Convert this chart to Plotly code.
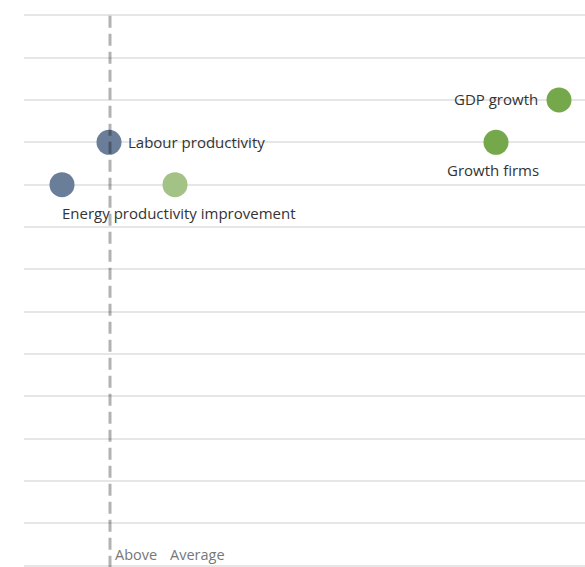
import plotly.graph_objects as go

# ---- data ----
metrics = ["GDP growth", "Growth firms", "Labour productivity",
           "Energy productivity", "Energy productivity improvement"]
scores = [535, 472, 85, 38, 151]          # horizontal position (score)
rows = [11, 10, 10, 9, 9]                 # row index
groups = ["above", "above", "below", "below", "improve"]
average_score = 86
labels = ["GDP growth", "Growth firms", "Labour productivity",
          "Energy productivity improvement", ""]
axis_labels = ["Above", "Average"]

# ---- styles ----
colors = {"above": "#75a84a", "below": "#6a7e99", "improve": "#a3c285"}
label_style = [
    dict(xanchor="right", yanchor="middle", xshift=-19, yshift=1),
    dict(xanchor="center", yanchor="middle", xshift=-3, yshift=-28),
    dict(xanchor="left", yanchor="middle", xshift=17, yshift=0),
    dict(xanchor="left", yanchor="middle", xshift=-2, yshift=-28),
    None,
]
FONT = "Open Sans"
FS = 15

fig = go.Figure()
fig.add_trace(go.Scatter(
    x=scores, y=rows, mode="markers",
    marker=dict(size=25, color=[colors[g] for g in groups], line=dict(width=0)),
    hoverinfo="text", text=metrics, showlegend=False,
))

for xv, yv, lab, st in zip(scores, rows, labels, label_style):
    if not lab or st is None:
        continue
    fig.add_annotation(x=xv, y=yv, text=lab, showarrow=False,
                       font=dict(family=FONT, size=FS, color="#333333"), **st)

# pane breaks in gridlines
for bx in [244, 404]:
    fig.add_shape(type="line", xref="x", yref="paper", x0=bx, x1=bx, y0=-0.01, y1=1.01,
                  line=dict(color="white", width=2), layer="between")

# average reference line
fig.add_shape(type="line", xref="x", yref="paper", x0=average_score, x1=average_score,
              y0=0.997, y1=-0.01, line=dict(color="rgba(0,0,0,0.3)", width=3, dash="12px,6px"),
              layer="above")

fig.add_annotation(x=average_score, y=0, text=axis_labels[0], showarrow=False,
                   xanchor="left", yanchor="middle", xshift=3, yshift=11,
                   font=dict(family=FONT, size=FS - 0.5, color="#777777"))
fig.add_annotation(x=average_score, y=0, text=axis_labels[1], showarrow=False,
                   xanchor="left", yanchor="middle", xshift=58, yshift=11,
                   font=dict(family=FONT, size=FS - 0.5, color="#777777"))

fig.update_layout(
    width=585, height=567,
    margin=dict(l=24, r=0, t=14, b=0),
    paper_bgcolor="white", plot_bgcolor="white",
    xaxis=dict(range=[0, 561], showgrid=False, zeroline=False, showticklabels=False,
               ticks="", showline=False, fixedrange=True),
    yaxis=dict(range=[-0.03, 13.03], tick0=0, dtick=1, showgrid=True, gridcolor="#e6e6e6",
               gridwidth=2, zeroline=False, showticklabels=False, ticks="",
               showline=False, fixedrange=True),
    font=dict(family=FONT),
)

fig.write_html("out.html", config={"displayModeBar": False},
               post_script="document.body.style.margin='0';")
